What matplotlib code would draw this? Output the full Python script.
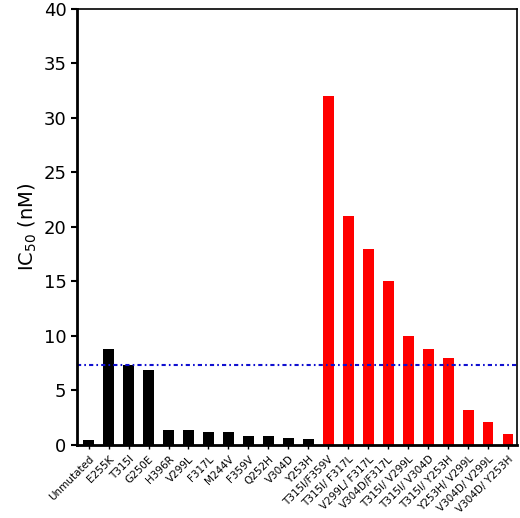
import numpy as np
import matplotlib
matplotlib.use("Agg")
import matplotlib.pyplot as plt

# mutants and IC50 values (nM)
labels = ["Unmutated", "E255K", "T315I", "G250E", "H396R", "V299L", "F317L",
          "M244V", "F359V", "Q252H", "V304D", "Y253H",
          "T315I/F359V", "T315I/ F317L", "V299L/ F317L", "V304D/F317L",
          "T315I/ V299L", "T315I/ V304D", "T315I/ Y253H", "Y253H/ V299L",
          "V304D/ V299L", "V304D/ Y253H"]
single_ic50 = [0.5, 8.8, 7.3, 6.85, 1.35, 1.35, 1.15, 1.15, 0.83, 0.83, 0.68, 0.55]
double_ic50 = [32, 21, 18, 15, 10, 8.8, 8.0, 3.25, 2.1, 1.0]
threshold = 7.3

values = single_ic50 + double_ic50
colors = ["black"] * len(single_ic50) + ["#ff0000"] * len(double_ic50)
x = np.arange(len(labels))

fig = plt.figure(figsize=(5.2, 5.18), dpi=100)
ax = fig.add_axes([0.148, 0.141, 0.846, 0.842])

ax.bar(x, values, width=0.52, color=colors)
ax.axhline(threshold, color="#1010d0", linewidth=1.5, linestyle=(0, (2, 1.5, 0.8, 1.5)))

ax.set_xlim(-0.58, len(labels) - 0.57)
ax.set_ylim(0, 40)
ax.set_yticks(np.arange(0, 41, 5))
ax.set_xticks(x)
ax.set_xticklabels(labels, rotation=45, ha="right", rotation_mode="anchor",
                   fontsize=7.5)
ax.tick_params(axis="y", labelsize=13, width=1.5, length=4)
ax.tick_params(axis="x", width=1, length=3)
ax.set_ylabel("IC$_{50}$ (nM)", fontsize=14, labelpad=3)

for side in ["left", "bottom"]:
    ax.spines[side].set_linewidth(2)
for side in ["top", "right"]:
    ax.spines[side].set_linewidth(1.2)

plt.savefig("out.png", dpi=100)
